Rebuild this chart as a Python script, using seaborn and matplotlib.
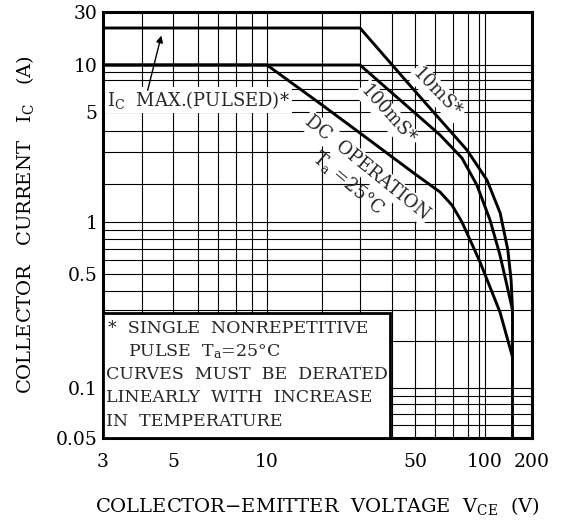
import numpy as np
import pandas as pd
import seaborn as sns
import matplotlib.pyplot as plt
from matplotlib.patches import Rectangle

# safe operating area curves
v_10ms = [3, 30, 50, 79.3, 103, 125, 140, 147, 150, 150]
i_10ms = [20, 20, 6.8, 3.08, 2.1, 1.18, 0.69, 0.46, 0.3, 0.05]
v_100ms = [3, 30, 50, 62.6, 75.8, 88, 107.6, 124.7, 138, 150]
i_100ms = [10, 10, 4.94, 3.79, 2.78, 1.96, 1.04, 0.644, 0.433, 0.3]
v_dc = [3, 10, 20, 30, 50, 62.6, 69.4, 75.8, 91.6, 124.7, 150]
i_dc = [10, 10, 5.55, 3.89, 2.27, 1.73, 1.36, 1.0, 0.587, 0.292, 0.158]

x_ticks = [3, 5, 10, 50, 100, 200]
x_ticklabels = ['3', '5', '10', '50', '100', '200']
y_ticks = [0.05, 0.1, 0.5, 1, 5, 10, 30]
y_ticklabels = ['0.05', '0.1', '0.5', '1', '5', '10', '30']
x_grid = [4, 5, 6, 7, 8, 9, 10, 20, 30, 40, 50, 60, 70, 80, 90, 100]
y_grid = [0.06, 0.07, 0.08, 0.09, 0.1, 0.2, 0.3, 0.4, 0.5, 0.6, 0.7, 0.8, 0.9,
          1, 2, 3, 4, 5, 6, 7, 8, 9, 10]

# the printed graph paper is not an even log grid, so the scale is pieced
# together decade by decade (value -> pixels along the axis)
x_scale_vals = [3, 4, 5, 6, 7, 8, 9, 10, 20, 30, 40, 50, 60, 70, 80, 90, 100, 200]
x_scale_pos = [0, 39, 70, 95, 115, 133, 149, 164, 219, 257, 289, 312, 332, 350,
               365, 376, 382, 429]
y_scale_vals = [0.05, 0.1, 0.2, 0.3, 0.4, 0.5, 1, 2, 3, 4, 5, 10, 20, 30]
y_scale_pos = [0, 50, 97, 128, 147, 164, 216, 254, 286, 307, 326, 373, 410, 426]


def piecewise_log(vals, pos, total):
    lv = np.log10(vals)
    fr = np.asarray(pos, float) / total
    s0 = (fr[1] - fr[0]) / (lv[1] - lv[0])
    s1 = (fr[-1] - fr[-2]) / (lv[-1] - lv[-2])

    def fwd(v):
        v = np.asarray(v, float)
        with np.errstate(divide='ignore', invalid='ignore'):
            l = np.log10(np.where(v > 0, v, 1e-300))
        out = np.interp(l, lv, fr)
        out = np.where(l < lv[0], fr[0] + (l - lv[0]) * s0, out)
        out = np.where(l > lv[-1], fr[-1] + (l - lv[-1]) * s1, out)
        return out

    def inv(f):
        f = np.asarray(f, float)
        out = np.interp(f, fr, lv)
        out = np.where(f < fr[0], lv[0] + (f - fr[0]) / s0, out)
        out = np.where(f > fr[-1], lv[-1] + (f - fr[-1]) / s1, out)
        return 10 ** out

    return fwd, inv


df = pd.concat([
    pd.DataFrame({'curve': '10ms', 'V': v_10ms, 'I': i_10ms}),
    pd.DataFrame({'curve': '100ms', 'V': v_100ms, 'I': i_100ms}),
    pd.DataFrame({'curve': 'dc', 'V': v_dc, 'I': i_dc}),
])

sns.set_theme(style='white')
plt.rcParams['font.family'] = ['DejaVu Serif']
plt.rcParams['mathtext.fontset'] = 'dejavuserif'

fig = plt.figure(figsize=(5.68, 5.32), dpi=100)
ax = fig.add_axes([103 / 568, 94 / 532, 429 / 568, 426 / 532])
ax.set_xscale('function', functions=piecewise_log(x_scale_vals, x_scale_pos, 429))
ax.set_yscale('function', functions=piecewise_log(y_scale_vals, y_scale_pos, 426))
ax.set_xlim(3, 200)
ax.set_ylim(0.05, 30)

sns.lineplot(data=df, x='V', y='I', units='curve', estimator=None, sort=False,
             color='black', lw=2.1, ax=ax, zorder=5)

ax.set_xticks(x_ticks)
ax.set_xticklabels(x_ticklabels)
ax.set_yticks(y_ticks)
ax.set_yticklabels(y_ticklabels)
ax.set_xticks(x_grid, minor=True)
ax.set_yticks(y_grid, minor=True)
ax.tick_params(which='both', length=0, labelsize=13.5, colors='black')
ax.tick_params(axis='x', pad=11)
ax.tick_params(axis='y', pad=4)
ax.set_axisbelow(True)
ax.grid(which='both', color='black', lw=0.8)
for sp in ax.spines.values():
    sp.set_linewidth(2.2)
    sp.set_color('black')

ax.set_xlabel(r'COLLECTOR$-$EMITTER  VOLTAGE  V$_{\mathrm{CE}}$  (V)',
              fontsize=14, labelpad=17, color='black')
ax.set_ylabel(r'COLLECTOR   CURRENT   I$_{\mathrm{C}}$   (A)',
              fontsize=14, labelpad=14, color='black')

white = dict(facecolor='white', edgecolor='none', pad=1.5)
ax.text(0.009, 0.793, r'I$_{\mathrm{C}}$  MAX.(PULSED)*', transform=ax.transAxes,
        fontsize=13, va='center', ha='left', bbox=white, zorder=4)
ax.annotate('', xy=(0.1375, 0.951), xytext=(0.1026, 0.81), xycoords='axes fraction',
            arrowprops=dict(arrowstyle='-|>', color='black', lw=1, mutation_scale=10),
            zorder=6)
ax.text(0.779, 0.810, '10mS*', transform=ax.transAxes, fontsize=13, rotation=-46,
        ha='center', va='center', rotation_mode='anchor', bbox=white, zorder=4)
ax.text(0.664, 0.758, '100mS*', transform=ax.transAxes, fontsize=13, rotation=-48,
        ha='center', va='center', rotation_mode='anchor', bbox=white, zorder=4)
ax.text(0.615, 0.634, 'DC  OPERATION', transform=ax.transAxes, fontsize=13, rotation=-39,
        ha='center', va='center', rotation_mode='anchor', bbox=white, zorder=4)
ax.text(0.571, 0.599, r'T$_{\mathrm{a}}$ =25°C', transform=ax.transAxes, fontsize=13,
        rotation=-40, ha='center', va='center', rotation_mode='anchor', zorder=4)

ax.add_patch(Rectangle((0, 0), 0.669, 0.293, transform=ax.transAxes, facecolor='white',
                       edgecolor='black', lw=2, zorder=4, clip_on=False))
note = [(0.012, 0.256, '*  SINGLE  NONREPETITIVE'),
        (0.058, 0.202, r'PULSE  T$_{\mathrm{a}}$=25°C'),
        (0.006, 0.148, 'CURVES  MUST  BE  DERATED'),
        (0.006, 0.094, 'LINEARLY  WITH  INCREASE'),
        (0.006, 0.038, 'IN  TEMPERATURE')]
for x, y, s in note:
    ax.text(x, y, s, transform=ax.transAxes, fontsize=12.5, ha='left', va='center', zorder=6)

fig.savefig('out.png', dpi=100)
